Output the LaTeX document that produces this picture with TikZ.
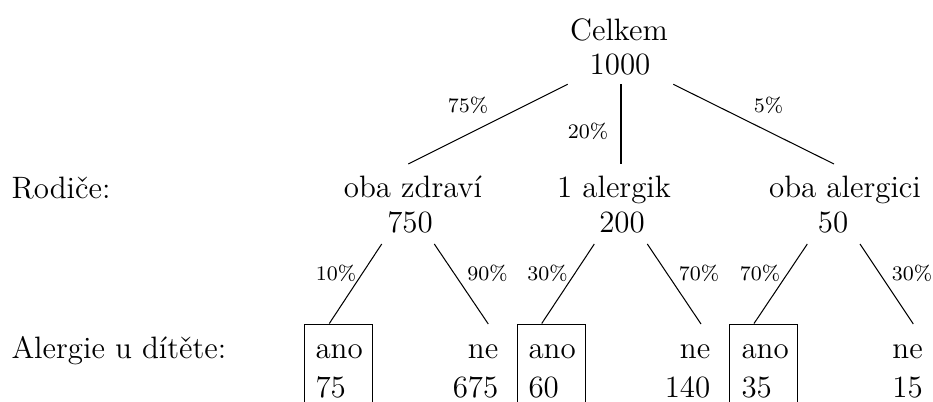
\documentclass[tikz,border=0pt]{standalone}
\usetikzlibrary{calc}
\tikzset{
  big/.style={font=\fontsize{12}{13.4}\selectfont, inner sep=0pt, align=center},
  side/.style={font=\fontsize{12}{14.5}\selectfont, inner sep=0pt, anchor=base west},
  leaftext/.style={font=\fontsize{12}{14.9}\selectfont, inner sep=0pt},
  pct/.style={font=\fontsize{8}{9.5}\selectfont, inner sep=0pt, anchor=base},
  edge/.style={line width=0.4pt},
  leafbox/.style={draw, line width=0.4pt, minimum width=26.4pt, minimum height=40pt, inner sep=0pt, anchor=north west},
}
\begin{document}
\begin{tikzpicture}[x=0.3876pt, y=-0.3876pt]
\useasboundingbox (0,0) rectangle (933,401);
% side labels
\node[side] (rod) at (11,198) {Rodiče:};
\node[side] (alg) at (11,358) {Alergie u dítěte:};
% root
\node[big, anchor=base] (root) at (619,40) {Celkem};
\node[big, anchor=base] (rootn) at (620,74.5) {1000};
% level 1
\node[big, anchor=base] (oz) at (413,197.5) {oba zdraví};
\node[big, anchor=base] (ozn) at (410,232) {750};
\node[big, anchor=base] (ea) at (614,197.5) {1 alergik};
\node[big, anchor=base] (ean) at (622,232) {200};
\node[big, anchor=base] (oa) at (845,197.5) {oba alergici};
\node[big, anchor=base] (oan) at (833,232) {50};
% leaves
\node[leafbox] (b1) at (304,323.5) {};
\node[leafbox] (b2) at (517.3,323.5) {};
\node[leafbox] (b3) at (729.3,323.5) {};
\node[leaftext, align=left, anchor=base west] (a1) at (315,397) {ano\\75};
\node[leaftext, align=left, anchor=base west] (a2) at (528,397) {ano\\60};
\node[leaftext, align=left, anchor=base west] (a3) at (741,397) {ano\\35};
\node[leaftext, align=right, anchor=base east] (n1) at (498.8,397) {ne\\675};
\node[leaftext, align=right, anchor=base east] (n2) at (710.8,397) {ne\\140};
\node[leaftext, align=right, anchor=base east] (n3) at (923.3,397) {ne\\15};
% connector end points
\coordinate (root-l) at (567.7,84.3);
\coordinate (root-m) at (621,84.3);
\coordinate (root-r) at (673.3,84.3);
\coordinate (oz-t) at (408.3,164);
\coordinate (ea-t) at (621,164);
\coordinate (oa-t) at (834,164);
\coordinate (oz-l) at (381.7,244);
\coordinate (oz-r) at (434.3,244);
\coordinate (ea-l) at (594.3,244);
\coordinate (ea-r) at (647.3,244);
\coordinate (oa-l) at (807.3,244);
\coordinate (oa-r) at (860,244);
\coordinate (b1-t) at (329.3,323.5);
\coordinate (n1-t) at (488.3,324);
\coordinate (b2-t) at (541.7,323.5);
\coordinate (n2-t) at (701,324);
\coordinate (b3-t) at (754,323.5);
\coordinate (n3-t) at (913.3,324);
% connectors
\draw[edge] (root-l) -- (oz-t);
\draw[edge] (root-m) -- (ea-t);
\draw[edge] (root-r) -- (oa-t);
\draw[edge] (oz-l) -- (b1-t);
\draw[edge] (oz-r) -- (n1-t);
\draw[edge] (ea-l) -- (b2-t);
\draw[edge] (ea-r) -- (n2-t);
\draw[edge] (oa-l) -- (b3-t);
\draw[edge] (oa-r) -- (n3-t);
% percentages
\node[pct] (p1) at (468,112) {75\%};
\node[pct] (p2) at (588,138) {20\%};
\node[pct] (p3) at (768.5,112) {5\%};
\node[pct] (p4) at (336,280) {10\%};
\node[pct] (p5) at (487.5,280) {90\%};
\node[pct] (p6) at (547.5,280) {30\%};
\node[pct] (p7) at (699,280) {70\%};
\node[pct] (p8) at (760,280) {70\%};
\node[pct] (p9) at (912,280) {30\%};
\end{tikzpicture}
\end{document}
